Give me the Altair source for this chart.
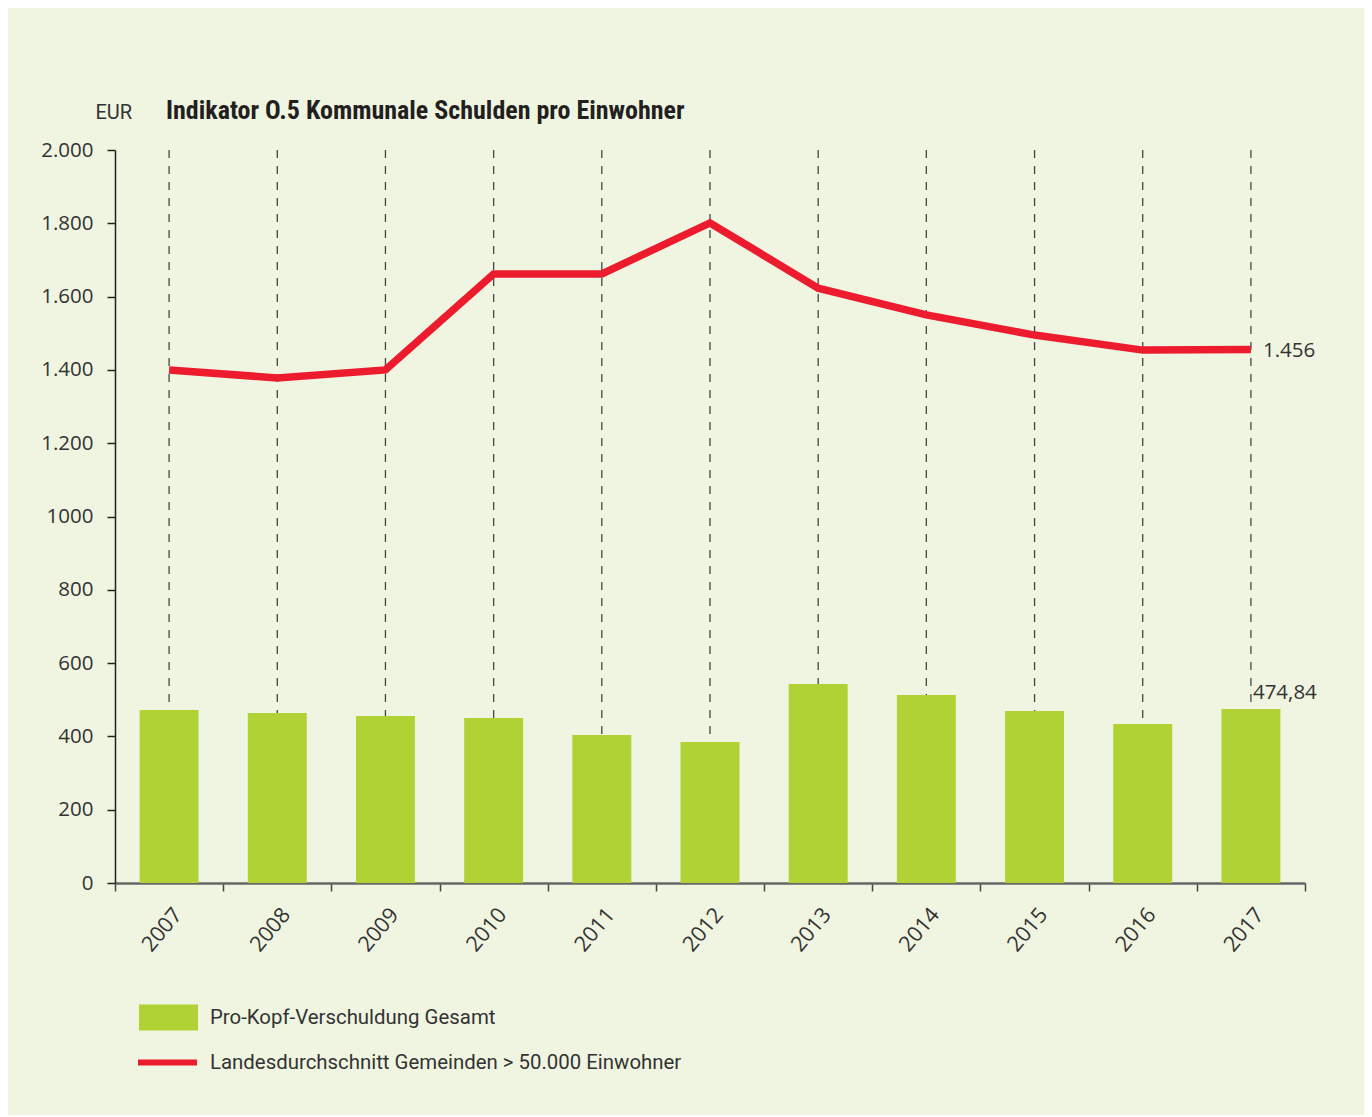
import altair as alt
import pandas as pd

years = ["2007", "2008", "2009", "2010", "2011", "2012", "2013", "2014", "2015", "2016", "2017"]
bar_values = [472, 464, 456, 450, 404, 385, 543, 513, 469, 434, 474.84]
line_values = [1400, 1378, 1400, 1662, 1662, 1801, 1623, 1550, 1495, 1454, 1456]
y_ticks = [0, 200, 400, 600, 800, 1000, 1200, 1400, 1600, 1800, 2000]
y_tick_labels = ["0", "200", "400", "600", "800", "1000", "1.200", "1.400", "1.600", "1.800", "2.000"]
bar_series = "Pro-Kopf-Verschuldung Gesamt"
line_series = "Landesdurchschnitt Gemeinden > 50.000 Einwohner"
bar_label = "474,84"
line_label = "1.456"
title_text = "Indikator O.5 Kommunale Schulden pro Einwohner"
unit_text = "EUR"

BG = "#f0f5e1"
GREEN = "#b0d235"
RED = "#ec1c2e"
TEXT = "#333333"
NUM_FONT = "Open Sans"
NUM_FS = 20.5
TXT_FONT = "Roboto"
TXT_FS = 20.4

df = pd.DataFrame({
    "year": years,
    "bar": bar_values,
    "line": line_values,
    "top": [2000] * len(years),
    "s1": [bar_series] * len(years),
    "s2": [line_series] * len(years),
})
last = df.tail(1).assign(bl=bar_label, ll=line_label)

label_expr = "[" + ",".join("'%s'" % s for s in y_tick_labels) + "][round(datum.value/200)]"

x_enc = alt.X(
    "year:N",
    sort=years,
    scale=alt.Scale(paddingInner=0, paddingOuter=0),
    axis=alt.Axis(
        title=None, labelAngle=-50, labelFontSize=21.5, labelFont=NUM_FONT, labelColor=TEXT,
        tickBand="extent", tickSize=8, tickColor="#444444", tickWidth=1.5,
        domainColor="#666666", domainWidth=2.5, labelPadding=20, labelOffset=9,
    ),
)
y_scale = alt.Scale(domain=[0, 2000], nice=False)

bars = alt.Chart(df).mark_bar(color=GREEN, width=alt.RelativeBandSize(0.545)).encode(
    x=x_enc,
    y=alt.Y(
        "bar:Q", scale=y_scale,
        axis=alt.Axis(
            title=unit_text, titleAngle=0, titleX=-20, titleY=-32, titleAlign="left",
            titleBaseline="alphabetic", titleFont=TXT_FONT, titleFontSize=20, titleFontWeight="normal",
            titleColor=TEXT, values=y_ticks, labelExpr=label_expr, labelFontSize=NUM_FS,
            labelFont=NUM_FONT, labelColor=TEXT, tickSize=8, tickColor="#222222", tickWidth=1.5,
            domainColor="#222222", domainWidth=1.5, labelPadding=14, grid=False,
        ),
    ),
    fill=alt.Fill(
        "s1:N",
        scale=alt.Scale(domain=[bar_series], range=[GREEN]),
        legend=alt.Legend(
            title=None, orient="none", legendX=24, legendY=838,
            symbolType="M-1,-0.44H1V0.44H-1Z", symbolSize=3481, symbolStrokeWidth=0,
            labelFont=TXT_FONT, labelFontSize=TXT_FS, labelColor=TEXT, labelOffset=12, labelLimit=0,
        ),
    ),
)

rules = alt.Chart(df).mark_rule(color="#444444", strokeDash=[8, 8], strokeWidth=1.3).encode(
    x=alt.X("year:N", sort=years),
    y=alt.Y("top:Q", scale=y_scale),
    y2="bar:Q",
)

line = alt.Chart(df).mark_line(strokeWidth=7.5, strokeJoin="miter").encode(
    x=alt.X("year:N", sort=years),
    y=alt.Y("line:Q", scale=y_scale),
    stroke=alt.Stroke(
        "s2:N",
        scale=alt.Scale(domain=[line_series], range=[RED]),
        legend=alt.Legend(
            title=None, orient="none", legendX=20, legendY=880,
            symbolType="stroke", symbolSize=3481, symbolStrokeWidth=6,
            labelFont=TXT_FONT, labelFontSize=TXT_FS, labelColor=TEXT, labelOffset=10, labelLimit=0,
        ),
    ),
)

line_text = alt.Chart(last).mark_text(
    align="left", baseline="middle", dx=12, dy=2, font=NUM_FONT, fontSize=NUM_FS, color=TEXT
).encode(x=alt.X("year:N", sort=years), y=alt.Y("line:Q", scale=y_scale), text="ll:N")

bar_text = alt.Chart(last).mark_text(
    align="left", baseline="middle", dx=2, dy=-16, font=NUM_FONT, fontSize=NUM_FS, color=TEXT
).encode(x=alt.X("year:N", sort=years), y=alt.Y("bar:Q", scale=y_scale), text="bl:N")

chart = alt.layer(rules, bars, line, line_text, bar_text).properties(
    width=1190,
    height=733,
    autosize=alt.AutoSizeParams(type="none"),
    padding={"left": 107, "top": 142, "right": 59, "bottom": 232},
    background=BG,
    title=alt.TitleParams(
        text=title_text, anchor="start", frame="group", dx=51, offset=-22,
        font="Roboto Condensed", fontSize=26, fontWeight="bold", color="#231f20",
    ),
).resolve_scale(fill="independent", stroke="independent").configure_view(stroke=None)

chart.save("out.html", embed_options={"renderer": "svg", "actions": False})
